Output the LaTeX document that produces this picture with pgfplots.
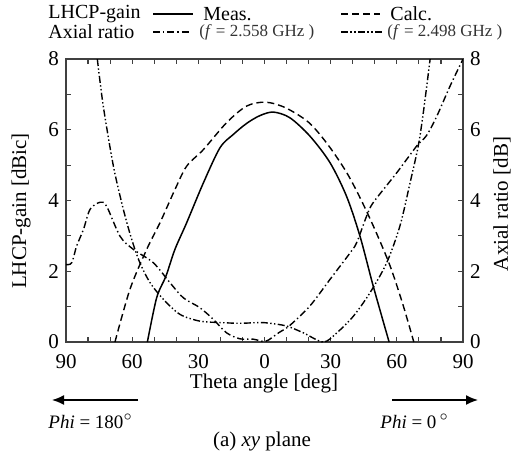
\documentclass[border=0pt]{standalone}
\usepackage{fontspec}
\setmainfont{Liberation Serif}
\usepackage{pgfplots}
\pgfplotsset{compat=1.18}
\usetikzlibrary{arrows.meta}

\tikzset{
  dashA/.style={line width=0.7pt, dash pattern=on 3.5pt off 1.5pt on 0.7pt off 1.5pt},
  dashB/.style={line width=0.7pt, dash pattern=on 3.5pt off 1.2pt on 0.7pt off 1.2pt on 0.7pt off 1.2pt},
  dashC/.style={line width=0.7pt, dash pattern=on 3.5pt off 2pt},
}

\begin{document}
\begin{tikzpicture}
\begin{axis}[
    name=ax, at={(0,0)}, anchor=south west,
    width=198.5pt, height=141.5pt, scale only axis,
    xmin=-90, xmax=90, ymin=0, ymax=8,
    xtick={-90,-60,...,90},
    xticklabels={90,60,30,0,30,60,90},
    minor xtick={-80,-70,...,80},
    ytick={0,2,...,8},
    minor ytick={1,3,5,7},
    tick align=inside,
    major tick length=2.5pt, minor tick length=2.5pt,
    axis line style={black!75, line width=0.7pt},
    tick style={black!75, line width=0.6pt},
    ticklabel style={font=\fontsize{10.5}{12}\selectfont},
    xticklabel style={yshift=-2.5pt},
    /pgf/number format/assume math mode=true,
    yticklabel pos=left,
    clip=true,
]
% LHCP-gain measured
\addplot[black, line width=0.75pt, smooth, tension=0.5] coordinates {
(-53.1,0) (-48.9,1.25) (-44.7,1.86) (-40.6,2.62) (-35.3,3.37) (-27.7,4.5)
(-20.2,5.49) (-14.1,5.87) (-8.1,6.18) (-2.1,6.40) (4,6.50) (11.5,6.34)
(20.6,5.82) (29.7,5.07) (37.2,4.12) (43.3,2.99) (49.3,1.58) (56.5,0)};
% LHCP-gain calculated
\addplot[black, dashC, smooth, tension=0.5] coordinates {
(-67.8,0) (-61.0,1.49) (-53.4,2.62) (-47.4,3.37) (-40.6,4.31) (-35.3,4.97)
(-27.7,5.44) (-17.2,6.20) (-8.1,6.67) (0.5,6.78) (9.6,6.62) (20.2,6.20)
(29.2,5.54) (38.2,4.69) (47.3,3.56) (56.4,2.24) (62.5,1.11) (67.7,0)};
% Axial ratio f = 2.558 GHz
\addplot[black, dashA, smooth, tension=0.5] coordinates {
(-90,2.19) (-87.4,2.24) (-85.2,2.71) (-82.1,3.18) (-79.1,3.75) (-74.6,3.95)
(-71.6,3.84) (-65.5,2.99) (-59.5,2.62) (-50.4,2.24) (-42.9,1.68) (-36.8,1.25)
(-29.3,0.97) (-23.2,0.64) (-17.2,0.26) (-11.1,0.09) (-5.1,0.08) (0.5,0.02)
(6.4,0.26) (11.5,0.47) (20.6,1.02) (29.7,1.77) (38.8,2.52) (41.8,2.81)
(46.3,3.56) (49.3,3.94) (59.9,4.78) (69.0,5.54) (73.5,5.84) (78.1,6.38)
(84.1,7.23) (90,8)};
% Axial ratio f = 2.498 GHz
\addplot[black, dashB, smooth, tension=0.5] coordinates {
(-75.8,8) (-73.1,6.67) (-68.5,4.97) (-64.0,3.75) (-60.2,2.90) (-56.5,2.24)
(-51.9,1.68) (-45.9,1.21) (-38.3,0.78) (-29.3,0.59) (-20.2,0.55) (-11.1,0.53)
(-2.1,0.55) (2.5,0.53) (10.1,0.45) (17.6,0.26) (26.7,0) (32.8,0.26)
(40.3,0.73) (47.8,1.39) (55.4,2.24) (61.4,3.28) (66.0,4.5) (69.7,5.54)
(72.0,6.48) (75.1,8)};
\end{axis}

% right-hand axis (axial ratio)
\begin{axis}[
    at={(0,0)}, anchor=south west,
    width=198.5pt, height=141.5pt, scale only axis,
    xmin=-90, xmax=90, ymin=0, ymax=8,
    axis x line=none, axis y line*=right,
    ytick={0,2,...,8},
    major tick length=0pt,
    axis line style={draw=none},
    ticklabel style={font=\fontsize{10.5}{12}\selectfont},
    /pgf/number format/assume math mode=true,
]
\end{axis}

% axis titles
\node[rotate=90, font=\fontsize{10.5}{12}\selectfont] at (-22.5pt,65.5pt) {LHCP-gain [dBic]};
\node[rotate=90, font=\fontsize{10.5}{12}\selectfont] at (218pt,69pt) {Axial ratio [dB]};
\node[font=\fontsize{10.5}{12}\selectfont] at (99pt,-20.5pt) {Theta angle [deg]};

% direction arrows
\draw[line width=0.8pt, -{Latex[length=6pt,width=5pt]}] (36pt,-29pt) -- (-7pt,-29pt);
\draw[line width=0.8pt, -{Latex[length=6pt,width=5pt]}] (163pt,-29pt) -- (206pt,-29pt);
\node[anchor=west, inner sep=0pt, font=\fontsize{9.5}{11}\selectfont] at (-9pt,-39.5pt) {\textit{Phi} = 180$^\circ$};
\node[anchor=west, inner sep=0pt, font=\fontsize{9.5}{11}\selectfont] at (157pt,-39.5pt) {\textit{Phi} = 0\,$^\circ$};
\node[font=\fontsize{10.5}{12}\selectfont] at (98pt,-49.5pt) {(a) \textit{xy} plane};

% legend
\node[anchor=west, inner sep=0pt, font=\fontsize{10}{12}\selectfont] at (-9pt,164pt) {LHCP-gain};
\node[anchor=west, inner sep=0pt, font=\fontsize{10}{12}\selectfont] at (-9pt,155pt) {Axial ratio};
\draw[black, line width=0.75pt] (43.5pt,164pt) -- (63.5pt,164pt);
\node[anchor=west, inner sep=0pt, font=\fontsize{10}{12}\selectfont] at (68.5pt,164pt) {Meas.};
\draw[black, dashC] (137.5pt,164pt) -- (157pt,164pt);
\node[anchor=west, inner sep=0pt, font=\fontsize{10}{12}\selectfont] at (162pt,164pt) {Calc.};
\draw[black, dashA] (43.5pt,155pt) -- (62.5pt,155pt);
\node[anchor=west, inner sep=0pt, font=\fontsize{8.5}{10}\selectfont, text=black!80] at (66.5pt,155pt) {(\textit{f} = 2.558 GHz )};
\draw[black, dashB] (137.5pt,155pt) -- (159pt,155pt);
\node[anchor=west, inner sep=0pt, font=\fontsize{8.5}{10}\selectfont, text=black!80] at (160.5pt,155pt) {(\textit{f} = 2.498 GHz )};

\pgfresetboundingbox
\path (-33pt,-57pt) rectangle (225.5pt,171pt);
\end{tikzpicture}
\end{document}
